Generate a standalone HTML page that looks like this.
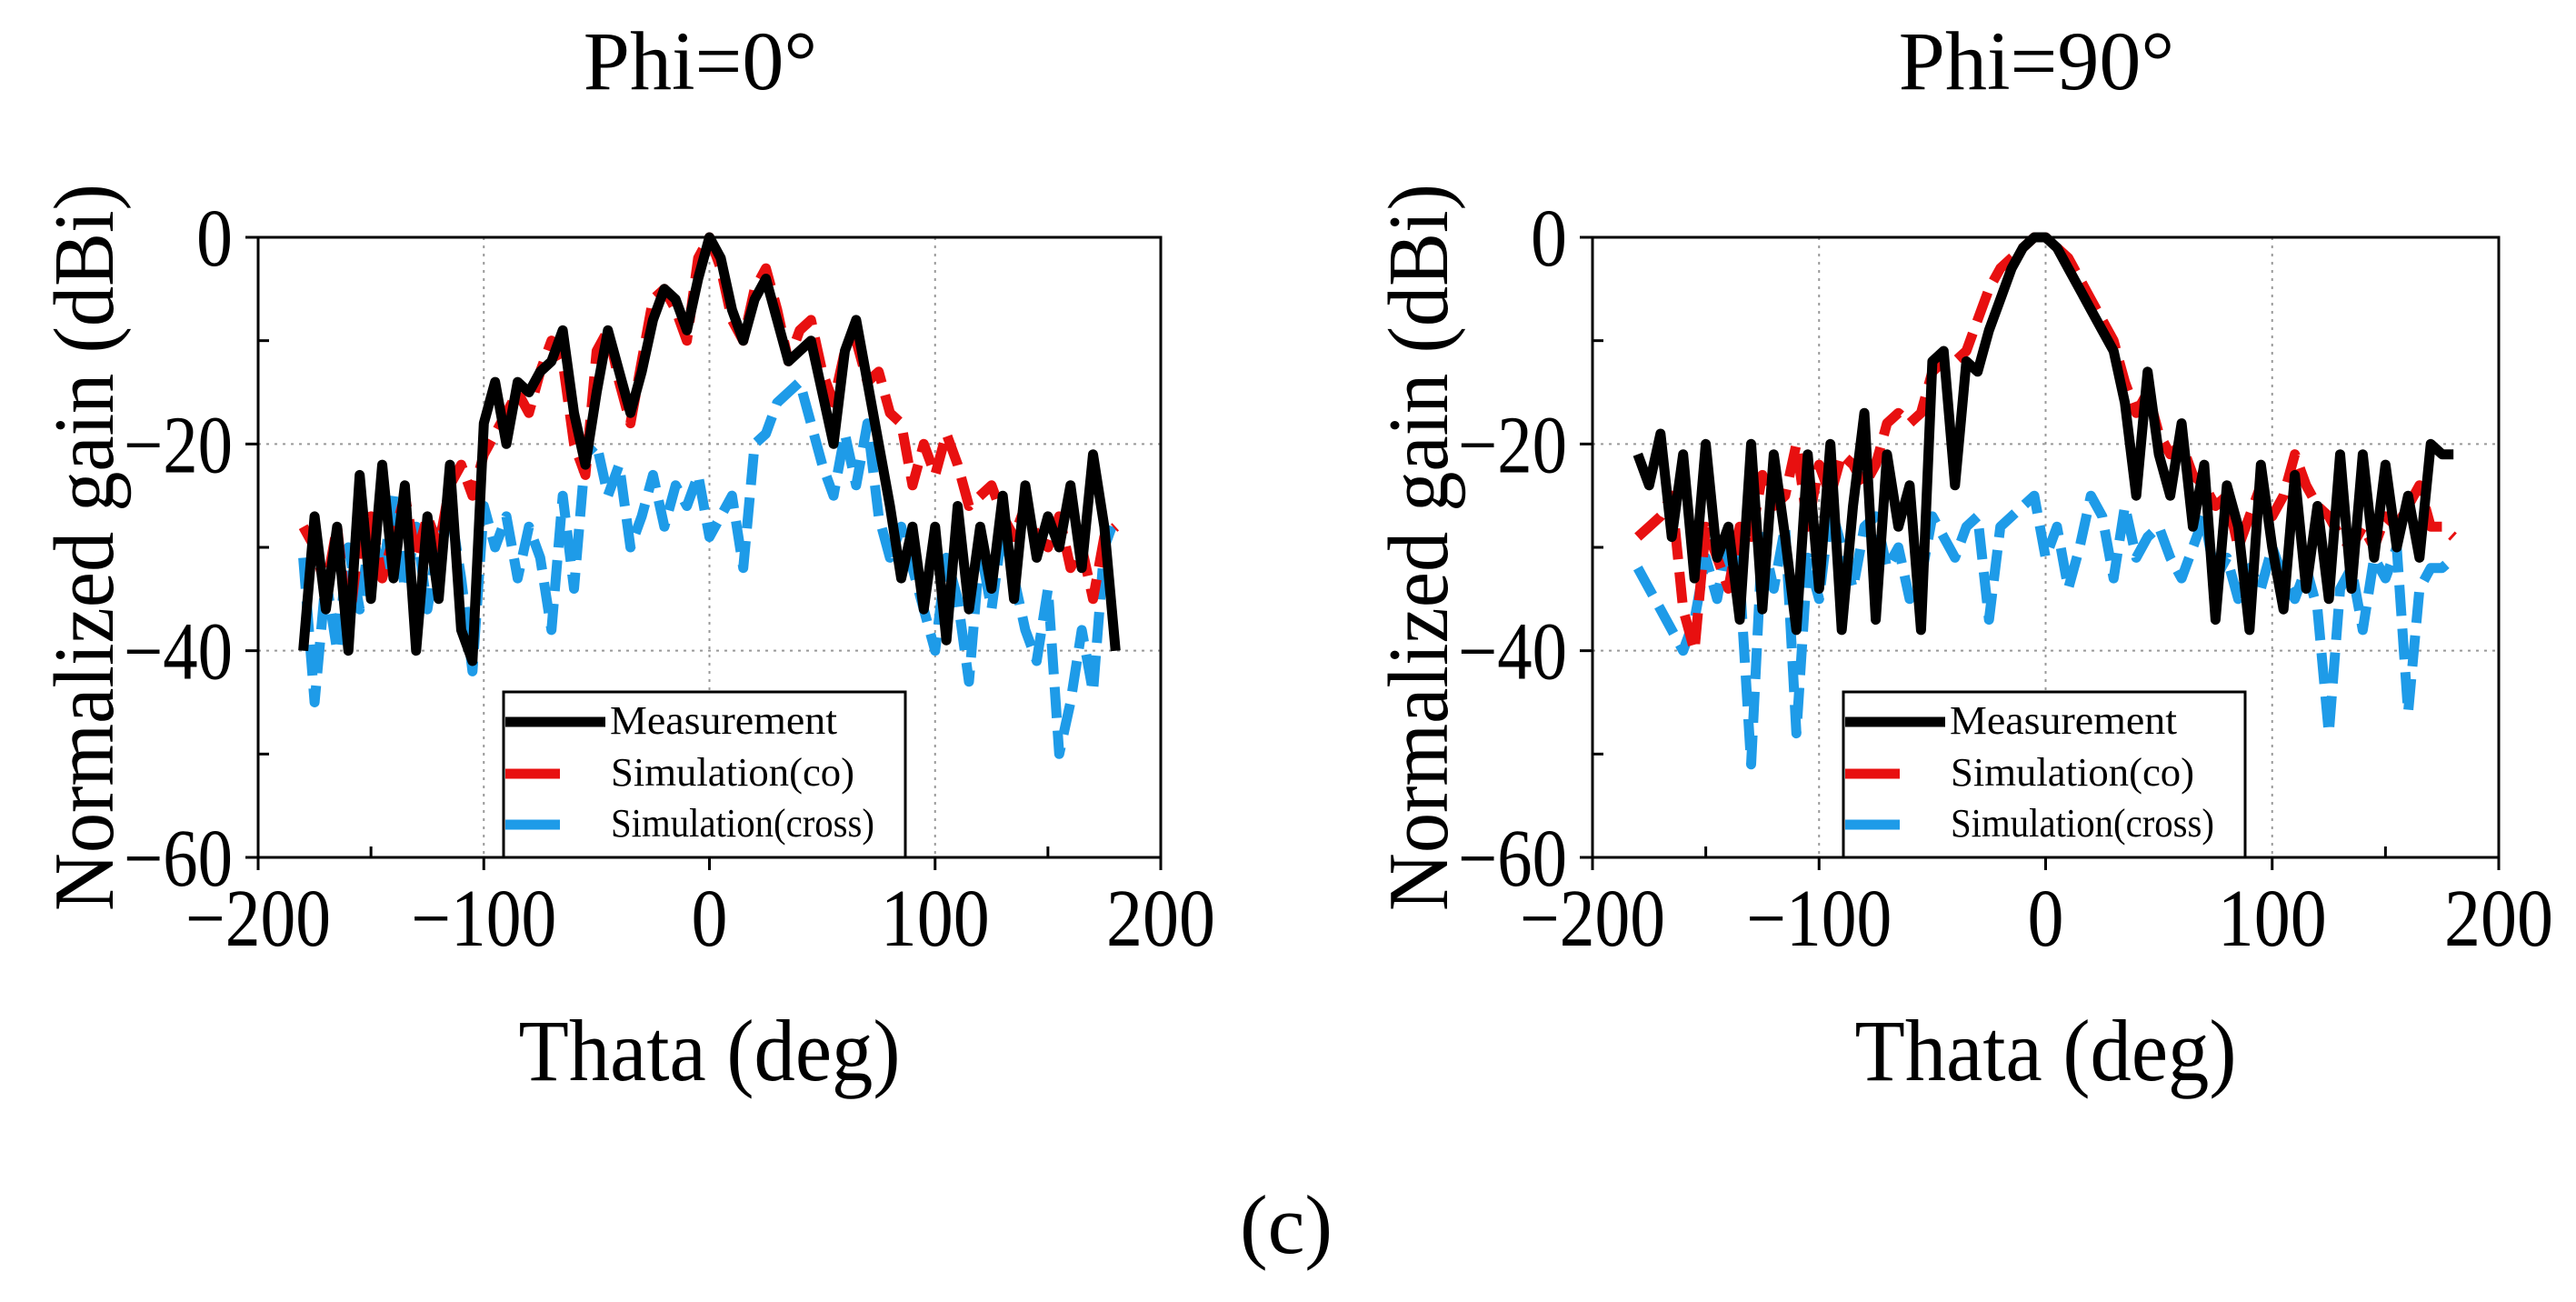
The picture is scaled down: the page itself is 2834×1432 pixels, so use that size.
<!DOCTYPE html>
<html><head><meta charset="utf-8"><style>
html,body{margin:0;padding:0;background:#fff;}
svg{display:block;font-family:"Liberation Serif",serif;}
</style></head><body>
<svg id="fig" width="2834" height="1432" viewBox="0 0 2834 1432">
<text x="1415" y="1378" font-size="92" text-anchor="middle">(c)</text>
</svg>
<script>
const thetas = []; for (let t=-180;t<=180;t+=5) thetas.push(t);
const xTicks = [-200,-100,0,100,200];
const yTicks = [0,-20,-40,-60];
const seriesNames = ["Measurement","Simulation(co)","Simulation(cross)"];
const p0Meas = [-40,-27,-36,-28,-40,-23,-35,-22,-33,-24,-40,-27,-35,-22,-38,-41,-18,-14,-20,-14,-15,-13,-12,-9,-17,-22,-15,-9,-13,-17,-13,-8,-5,-6,-9,-4,0,-2,-7,-10,-6,-4,-8,-12,-11,-10,-15,-20,-11,-8,-14,-20,-26,-33,-28,-36,-28,-39,-26,-36,-28,-34,-25,-35,-24,-31,-27,-30,-24,-32,-21,-28,-40];
const p0Co = [-28,-30,-34,-28,-38,-29,-27,-33,-29,-25,-31,-27,-30,-24,-22,-25,-21,-19,-17,-15,-17,-13,-10,-12,-20,-23,-11,-9,-14,-18,-12,-6,-5,-7,-10,-2,0,-3,-8,-10,-5,-3,-7,-12,-9,-8,-13,-16,-11,-10,-14,-13,-17,-18,-24,-20,-23,-19,-22,-26,-25,-24,-27,-29,-26,-29,-30,-27,-32,-30,-35,-29,-28];
const p0Cross = [-31,-45,-33,-40,-30,-36,-28,-33,-25,-34,-28,-36,-29,-26,-33,-42,-26,-30,-27,-33,-28,-31,-38,-25,-34,-21,-20,-25,-22,-30,-27,-23,-28,-24,-26,-23,-29,-27,-25,-32,-20,-19,-16,-15,-14,-18,-22,-25,-19,-24,-18,-27,-31,-28,-32,-36,-40,-31,-35,-43,-30,-36,-28,-33,-38,-41,-34,-50,-45,-38,-44,-30,-27];
const p90Meas = [-21,-24,-19,-29,-21,-33,-20,-31,-28,-37,-20,-36,-21,-29,-38,-21,-34,-20,-38,-26,-17,-37,-21,-28,-24,-38,-12,-11,-24,-12,-13,-9,-6,-3,-1,0,0,-1,-3,-5,-7,-9,-11,-16,-25,-13,-21,-25,-18,-28,-22,-37,-24,-28,-38,-22,-30,-36,-23,-34,-26,-35,-21,-34,-21,-31,-22,-30,-25,-31,-20,-21,-21];
const p90Co = [-29,-28,-27,-25,-36,-40,-28,-31,-34,-28,-29,-23,-26,-25,-20,-28,-22,-25,-21,-22,-24,-22,-18,-17,-18,-17,-13,-12,-12,-11,-8,-5,-3,-2,-1,0,0,-1,-2,-4,-6,-8,-10,-14,-17,-15,-19,-21,-20,-23,-24,-26,-25,-30,-27,-24,-27,-25,-21,-24,-26,-27,-29,-30,-28,-30,-27,-28,-26,-24,-28,-28,-29];
const p90Cross = [-32,-34,-36,-38,-40,-37,-31,-35,-29,-33,-51,-29,-34,-28,-48,-31,-35,-26,-30,-34,-28,-27,-32,-30,-35,-33,-27,-29,-31,-28,-27,-37,-28,-27,-26,-25,-31,-28,-34,-30,-25,-27,-33,-26,-31,-29,-28,-31,-33,-30,-27,-33,-31,-35,-32,-34,-30,-33,-35,-32,-36,-48,-34,-32,-38,-31,-33,-30,-46,-34,-32,-32,-31];

const NS="http://www.w3.org/2000/svg";
const svg=document.getElementById('fig');
function mk(tag,attrs,parent){const e=document.createElementNS(NS,tag);for(const k in attrs)e.setAttribute(k,attrs[k]);(parent||svg).appendChild(e);return e;}

function panel(id, L, R, title, meas, co, cross, lx){
  const T=261,B=943;
  const xs=v=>L+(v+200)/400*(R-L);
  const ys=v=>T+(0-v)/60*(B-T);
  const g=mk('g',{});
  
  
  const tt=mk('text',{x:(L+R)/2-10,y:98,'font-size':92,'text-anchor':'middle'},g);
  tt.textContent=title;
  
  
  [-100,0,100].forEach(v=>{const l=mk('line',{x1:xs(v),x2:xs(v),y1:T,y2:B,stroke:'#999','stroke-width':2,'stroke-dasharray':'3,6'},g);
    });
  [-20,-40].forEach(v=>{const l=mk('line',{x1:L,x2:R,y1:ys(v),y2:ys(v),stroke:'#999','stroke-width':2,'stroke-dasharray':'3,6'},g);
    });
  const clip=mk('clipPath',{id:id+'-clip'},g);mk('rect',{x:L,y:T-6,width:R-L,height:B-T+6},clip);
  const plot=mk('g',{'clip-path':'url(#'+id+'-clip)'},g);
  function line(vals,color,dash,name){
    const d=vals.map((v,i)=>(i?'L':'M')+xs(thetas[i]).toFixed(1)+','+ys(v).toFixed(1)).join('');
    const p=mk('path',{d:d,fill:'none',stroke:color,'stroke-width':11,'stroke-linejoin':'round'},plot);
    if(dash)p.setAttribute('stroke-dasharray',dash);
    
    
  }
  line(cross,'#1e9be8','34,14','series-simulation-cross');
  line(co,'#e81010','34,14','series-simulation-co');
  line(meas,'#000','','series-measurement');
  const fr=mk('rect',{x:L,y:T,width:R-L,height:B-T,fill:'none',stroke:'#000','stroke-width':3},g);
  
  xTicks.forEach(v=>{mk('line',{x1:xs(v),x2:xs(v),y1:B,y2:B+14,stroke:'#000','stroke-width':3},g);
    const s=(v<0?'\u2212':'')+Math.abs(v);
    const t=mk('text',{x:xs(v),y:1040,'font-size':90,'text-anchor':'middle',textLength:s.length*40,lengthAdjust:'spacingAndGlyphs'},g);t.textContent=s;
    });
  [-150,-50,50,150].forEach(v=>mk('line',{x1:xs(v),x2:xs(v),y1:B,y2:B-12,stroke:'#000','stroke-width':3},g));
  yTicks.forEach(v=>{mk('line',{x1:L-14,x2:L,y1:ys(v),y2:ys(v),stroke:'#000','stroke-width':3},g);
    const s=(v<0?'\u2212':'')+Math.abs(v);
    const t=mk('text',{x:L-28,y:ys(v)+31,'font-size':90,'text-anchor':'end',textLength:s.length*40,lengthAdjust:'spacingAndGlyphs'},g);t.textContent=s;
    });
  [-10,-30,-50].forEach(v=>mk('line',{x1:L,x2:L+12,y1:ys(v),y2:ys(v),stroke:'#000','stroke-width':3},g));
  const xt=mk('text',{x:(L+R)/2,y:1188,'font-size':96,'text-anchor':'middle',textLength:420,lengthAdjust:'spacingAndGlyphs'},g);xt.textContent='Thata (deg)';
  
  const yt=mk('text',{x:0,y:0,'font-size':94,'text-anchor':'middle',transform:`translate(${L-160},602) rotate(-90)`,textLength:800,lengthAdjust:'spacingAndGlyphs'},g);
  yt.textContent='Normalized gain (dBi)';
  
  const lg=mk('g',{},g);
  
  mk('rect',{x:lx,y:761,width:442,height:182,fill:'#fff',stroke:'#000','stroke-width':3},lg);
  const cols=['#000','#e81010','#1e9be8'];const rows=[794,851,907];const tl=[250,268,290];
  seriesNames.forEach((n,i)=>{
    mk('line',{x1:lx+2,x2:i?lx+62:lx+112,y1:rows[i],y2:rows[i],stroke:cols[i],'stroke-width':11},lg);
    const t=mk('text',{x:i?lx+118:lx+117,y:rows[i]+13,'font-size':44,textLength:tl[i],lengthAdjust:'spacingAndGlyphs'},lg);t.textContent=n;
    
  });
}
panel('panel-phi0',284,1277,'Phi=0\u00b0',p0Meas,p0Co,p0Cross,554);
panel('panel-phi90',1752,2749,'Phi=90\u00b0',p90Meas,p90Co,p90Cross,2028);
</script>
</body></html>
